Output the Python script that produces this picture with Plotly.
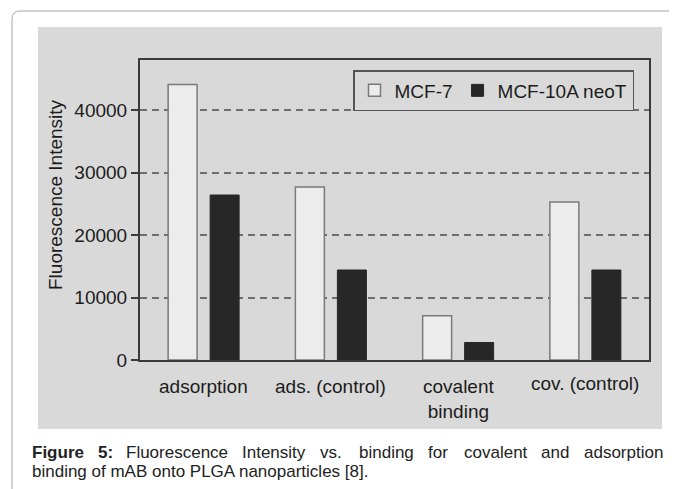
import plotly.graph_objects as go

# ---------------- data ----------------
categories = ["adsorption", "ads. (control)", "covalent<br>binding", "cov. (control)"]
series_names = ["MCF-7", "MCF-10A neoT"]
mcf7_values = [44100, 27700, 7100, 25300]
mcf10a_values = [26400, 14400, 2800, 14400]
y_ticks = [0, 10000, 20000, 30000, 40000]
y_title = "Fluorescence Intensity"
caption_line1_words = ["Figure", "5:", "Fluorescence", "Intensity", "vs.", "binding",
                       "for", "covalent", "and", "adsorption"]
caption_line2 = "binding of mAB onto PLGA nanoparticles [8]."

# ---------------- layout helpers ----------------
OFF = 8                      # page body margin in the browser
W, H = 677 - OFF, 489 - OFF
PLOT_L, PLOT_R, PLOT_T, PLOT_B = 140, 649, 60, 360   # target page pixels
L = PLOT_L - OFF
R = 677 - PLOT_R
T = PLOT_T - OFF
B = 489 - PLOT_B
PW, PH = PLOT_R - PLOT_L, PLOT_B - PLOT_T


def px(x):
    return (x - PLOT_L) / PW


def py(y):
    return (PLOT_B - y) / PH


FONT = "Liberation Sans, Arial, Helvetica, sans-serif"
PANEL = "#d9d9d9"
TEXT = "#1c1c1c"

fig = go.Figure()
fig.add_trace(go.Bar(
    x=categories, y=mcf7_values, name=series_names[0],
    marker=dict(color="#ececec", line=dict(color="#7a7a7a", width=1.5)),
))
fig.add_trace(go.Bar(
    x=categories, y=mcf10a_values, name=series_names[1],
    marker=dict(color="#272727", line=dict(color="#272727", width=1)),
))

shapes = []
# outer rounded frame (clipped on right and bottom)
shapes.append(dict(
    type="path", xref="paper", yref="paper", layer="below",
    path=(f"M {px(12)},{py(495)} L {px(12)},{py(19)} "
          f"Q {px(12)},{py(11)} {px(20)},{py(11)} L {px(690)},{py(11)}"),
    line=dict(color="#a8a8a8", width=1),
))
# gray panel
shapes.append(dict(
    type="rect", xref="paper", yref="paper", layer="below",
    x0=px(38), x1=px(662), y0=py(429), y1=py(27),
    fillcolor=PANEL, line=dict(width=0),
))

annotations = []
# x category labels
label_shift = [-14, -14, -14, -11]
for cat, sh in zip(categories, label_shift):
    annotations.append(dict(
        x=cat, y=0, xref="x", yref="y", text=cat, showarrow=False,
        yanchor="top", xanchor="center", yshift=sh,
        font=dict(family=FONT, size=19, color=TEXT),
    ))
# y title
annotations.append(dict(
    x=px(55), y=py(195), xref="paper", yref="paper", text=y_title,
    showarrow=False, textangle=-90, xanchor="center", yanchor="middle",
    font=dict(family=FONT, size=19, color=TEXT),
))
# caption line 1 (justified: words placed individually)
word_x = [30, 96, 124, 240, 318, 357, 426, 462, 539, 582]
for i, (w, xx) in enumerate(zip(caption_line1_words, word_x)):
    txt = f"<b>{w}</b>" if i < 2 else w
    annotations.append(dict(
        x=px(xx), y=py(452), xref="paper", yref="paper", text=txt,
        showarrow=False, xanchor="left", yanchor="middle",
        font=dict(family=FONT, size=17, color="#222222"),
    ))
annotations.append(dict(
    x=px(30), y=py(471), xref="paper", yref="paper", text=caption_line2,
    showarrow=False, xanchor="left", yanchor="middle",
    font=dict(family=FONT, size=17, color="#222222"),
))

fig.update_layout(
    width=W, height=H,
    margin=dict(l=L, r=R, t=T, b=B, pad=0),
    paper_bgcolor="white",
    plot_bgcolor=PANEL,
    barmode="group",
    bargap=0.34,
    bargroupgap=0.31,
    font=dict(family=FONT, size=19, color=TEXT),
    shapes=shapes,
    annotations=annotations,
    showlegend=True,
    legend=dict(
        orientation="h", x=px(634), y=py(70), xanchor="right", yanchor="top",
        bgcolor=PANEL, bordercolor="#555555", borderwidth=1.5,
        font=dict(family=FONT, size=19, color=TEXT),
        itemwidth=30, tracegroupgap=0,
    ),
)
fig.update_xaxes(
    showticklabels=False, ticks="", showgrid=False,
    showline=True, mirror=True, linecolor="#3a3a3a", linewidth=2,
)
fig.update_yaxes(
    range=[0, 48000], tickvals=y_ticks, ticktext=[str(v) for v in y_ticks],
    ticks="outside", ticklen=7, tickwidth=1.5, tickcolor="#3a3a3a",
    tickfont=dict(family=FONT, size=19, color=TEXT),
    showgrid=True, gridcolor="#6e6e6e", gridwidth=2, griddash="7px,5px",
    zeroline=False,
    showline=True, mirror=True, linecolor="#3a3a3a", linewidth=2,
)

fig.write_html("out.html")
